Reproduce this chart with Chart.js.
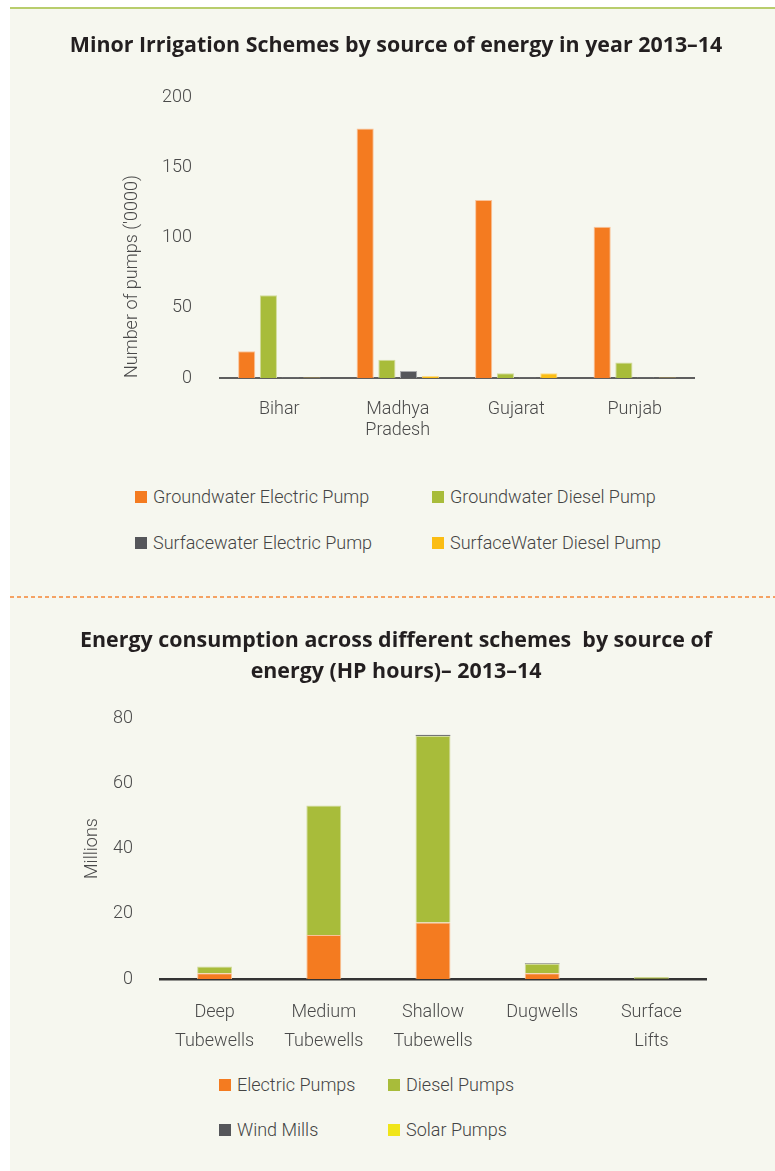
<!DOCTYPE html>
<html>
<head>
<meta charset="utf-8">
<script src="https://cdn.jsdelivr.net/npm/chart.js@4.4.1/dist/chart.umd.min.js"></script>
<style>
  html, body { margin: 0; padding: 0; background: #fff; }
  body { width: 775px; height: 1171px; position: relative; overflow: hidden; font-family: Roboto, sans-serif; }
  .panel { position: absolute; left: 10px; top: 7px; width: 765px; height: 1164px; background: #f6f7ef; border-top: 2px solid #b8cd6c; box-sizing: border-box; }
  .divider { position: absolute; left: 10px; top: 596px; width: 765px; height: 2px;
    background: repeating-linear-gradient(90deg, #f5a263 0 4px, transparent 4px 7px); }
  canvas { position: absolute; }
  .legend { position: absolute; margin: 0; padding: 0; list-style: none; }
  .legend li { position: absolute; white-space: nowrap; font-size: 18px; font-weight: 300; color: #444; line-height: 20px; }
  .legend li span { position: absolute; top: 4px; width: 12px; height: 12px; }
</style>
</head>
<body>
<div class="panel"></div>
<div class="divider"></div>
<canvas id="pumpsChart" width="765" height="451" style="left:10px; top:9px"></canvas>
<ul class="legend" id="pumpsLegend"></ul>
<canvas id="energyChart" width="765" height="462" style="left:10px; top:600px"></canvas>
<ul class="legend" id="energyLegend"></ul>

<script>
// ---- Chart 1: number of pumps ('0000) by state ----
const states     = [['Bihar'], ['Madhya', 'Pradesh'], ['Gujarat'], ['Punjab']];
const gwElectric = [19, 178, 127, 108];
const gwDiesel   = [59, 13, 3.3, 11];
const swElectric = [0.4, 5, 0.4, 0.4];
const swDiesel   = [0.4, 1.4, 3.3, 0.4];
const pumpTicks  = [0, 50, 100, 150, 200];

// ---- Chart 2: energy consumption (HP hours, millions) by scheme ----
const schemes     = [['Deep', 'Tubewells'], ['Medium', 'Tubewells'], ['Shallow', 'Tubewells'], ['Dugwells'], ['Surface', 'Lifts']];
const electricHP  = [1.75, 13.5, 17.3, 1.75, 0.05];
const dieselHP    = [2.05, 39.7, 57.2, 2.95, 0.6];
const windMillsHP = [0, 0, 0.4, 0.2, 0];
const solarHP     = [0, 0, 0, 0, 0];
const energyTicks = [0, 20, 40, 60, 80];

const COLORS = {
  orange: '#f47b20',
  green:  '#a8bc3a',
  grey:   '#55565a',
  amber:  '#fbbd13',
  lemon:  '#f0e519',
};

const TEXT  = '#4a4a4a';
const TITLE = '#231f20';
const tickFont  = { family: 'Roboto', size: 18, weight: 300 };
const titleFont = { family: 'Open Sans', size: 21.4, weight: 'bold' };

function htmlLegend(chart, listId, pos) {
  const ul = document.getElementById(listId);
  ul.style.left = pos.left + 'px';
  ul.style.top  = pos.top + 'px';
  chart.data.datasets.forEach((ds, i) => {
    const li  = document.createElement('li');
    const col = i % 2, row = Math.floor(i / 2);
    li.style.left = (col * pos.colGap) + 'px';
    li.style.top  = (row * pos.rowGap) + 'px';
    li.style.paddingLeft = pos.textOffset + 'px';
    const box = document.createElement('span');
    box.style.left = '0px';
    box.style.background = ds.backgroundColor;
    box.style.width = box.style.height = pos.box + 'px';
    li.appendChild(box);
    li.appendChild(document.createTextNode(ds.label));
    ul.appendChild(li);
  });
}

// empty right-hand axis: keeps the plot narrow while the title box stays wide
function spacerAxis(width) {
  return {
    position: 'right',
    display: true,
    grid: { display: false, drawTicks: false },
    border: { display: false },
    ticks: { display: false },
    afterFit: s => { s.width = width; },
  };
}

const pumpsChart = new Chart(document.getElementById('pumpsChart'), {
  type: 'bar',
  data: {
    labels: states,
    datasets: [
      { label: 'Groundwater Electric Pump',  data: gwElectric, backgroundColor: COLORS.orange, borderColor: '#f9c39a' },
      { label: 'Groundwater Diesel Pump',    data: gwDiesel,   backgroundColor: COLORS.green,  borderColor: '#d2dc9c' },
      { label: 'Surfacewater Electric Pump', data: swElectric, backgroundColor: COLORS.grey,   borderColor: '#a9aaac' },
      { label: 'SurfaceWater Diesel Pump',   data: swDiesel,   backgroundColor: COLORS.amber,  borderColor: '#fddc88' },
    ].map(d => ({ ...d, borderWidth: 1, categoryPercentage: 0.733, barPercentage: 0.79 })),
  },
  options: {
    responsive: false,
    animation: false,
    layout: { padding: { left: 17, right: 10, top: 0, bottom: 0 } },
    plugins: {
      legend: { display: false },
      tooltip: { enabled: false },
      title: {
        display: true,
        text: 'Minor Irrigation Schemes by source of energy in year 2013–14',
        color: TITLE,
        font: { ...titleFont, lineHeight: 1.2 },
        padding: { top: 24, bottom: 39 },
      },
    },
    scales: {
      x: {
        grid: { display: false, drawTicks: false },
        border: { display: true, color: '#5e5e5e', width: 2 },
        ticks: { color: TEXT, font: { ...tickFont, lineHeight: 1.17 }, padding: 21, maxRotation: 0 },
        afterFit: s => { s.height = 82; },
      },
      y: {
        min: 0, max: 200,
        afterBuildTicks: s => { s.ticks = pumpTicks.map(v => ({ value: v })); },
        grid: { display: false, drawTicks: false },
        border: { display: false },
        ticks: { color: TEXT, font: tickFont, padding: 28 },
        title: {
          display: true,
          text: "Number of pumps ('0000)",
          color: TEXT,
          font: tickFont,
          align: 'start',
          padding: { top: 95, bottom: 0 },
        },
        afterFit: s => { s.width = 193; },
      },
      pad: spacerAxis(71),
    },
  },
});

const energyChart = new Chart(document.getElementById('energyChart'), {
  type: 'bar',
  data: {
    labels: schemes,
    datasets: [
      { label: 'Electric Pumps', data: electricHP,  backgroundColor: COLORS.orange, borderColor: '#f9c39a' },
      { label: 'Diesel Pumps',   data: dieselHP,    backgroundColor: COLORS.green,  borderColor: '#d2dc9c' },
      { label: 'Wind Mills',     data: windMillsHP, backgroundColor: COLORS.grey,   borderColor: COLORS.grey },
      { label: 'Solar Pumps',    data: solarHP,     backgroundColor: COLORS.lemon,  borderColor: COLORS.lemon },
    ].map(d => ({ ...d, borderWidth: 1, categoryPercentage: 0.32, barPercentage: 1 })),
  },
  options: {
    responsive: false,
    animation: false,
    layout: { padding: { left: 17, right: 10, top: 0, bottom: 0 } },
    plugins: {
      legend: { display: false },
      tooltip: { enabled: false },
      title: {
        display: true,
        text: ['Energy consumption across different schemes  by source of', 'energy (HP hours)– 2013–14'],
        color: TITLE,
        font: { ...titleFont, lineHeight: 1.45 },
        padding: { top: 25, bottom: 31 },
      },
    },
    scales: {
      x: {
        stacked: true,
        grid: { display: false, drawTicks: false },
        border: { display: true, color: '#333333', width: 2.5 },
        ticks: { color: TEXT, font: { ...tickFont, lineHeight: 1.6 }, padding: 19, maxRotation: 0 },
        afterFit: s => { s.height = 83; },
      },
      y: {
        stacked: true,
        min: 0, max: 80,
        afterBuildTicks: s => { s.ticks = energyTicks.map(v => ({ value: v })); },
        grid: { display: false, drawTicks: false },
        border: { display: false },
        ticks: { color: TEXT, font: tickFont, padding: 27 },
        title: {
          display: true,
          text: 'Millions',
          color: TEXT,
          font: tickFont,
          padding: { top: 55, bottom: 0 },
        },
        afterFit: s => { s.width = 133; },
      },
      pad: spacerAxis(59),
    },
  },
});

htmlLegend(pumpsChart,  'pumpsLegend',  { left: 135, top: 487, colGap: 297, rowGap: 46, textOffset: 18, box: 12 });
htmlLegend(energyChart, 'energyLegend', { left: 219, top: 1075, colGap: 169, rowGap: 45, textOffset: 18, box: 12 });
</script>
</body>
</html>
